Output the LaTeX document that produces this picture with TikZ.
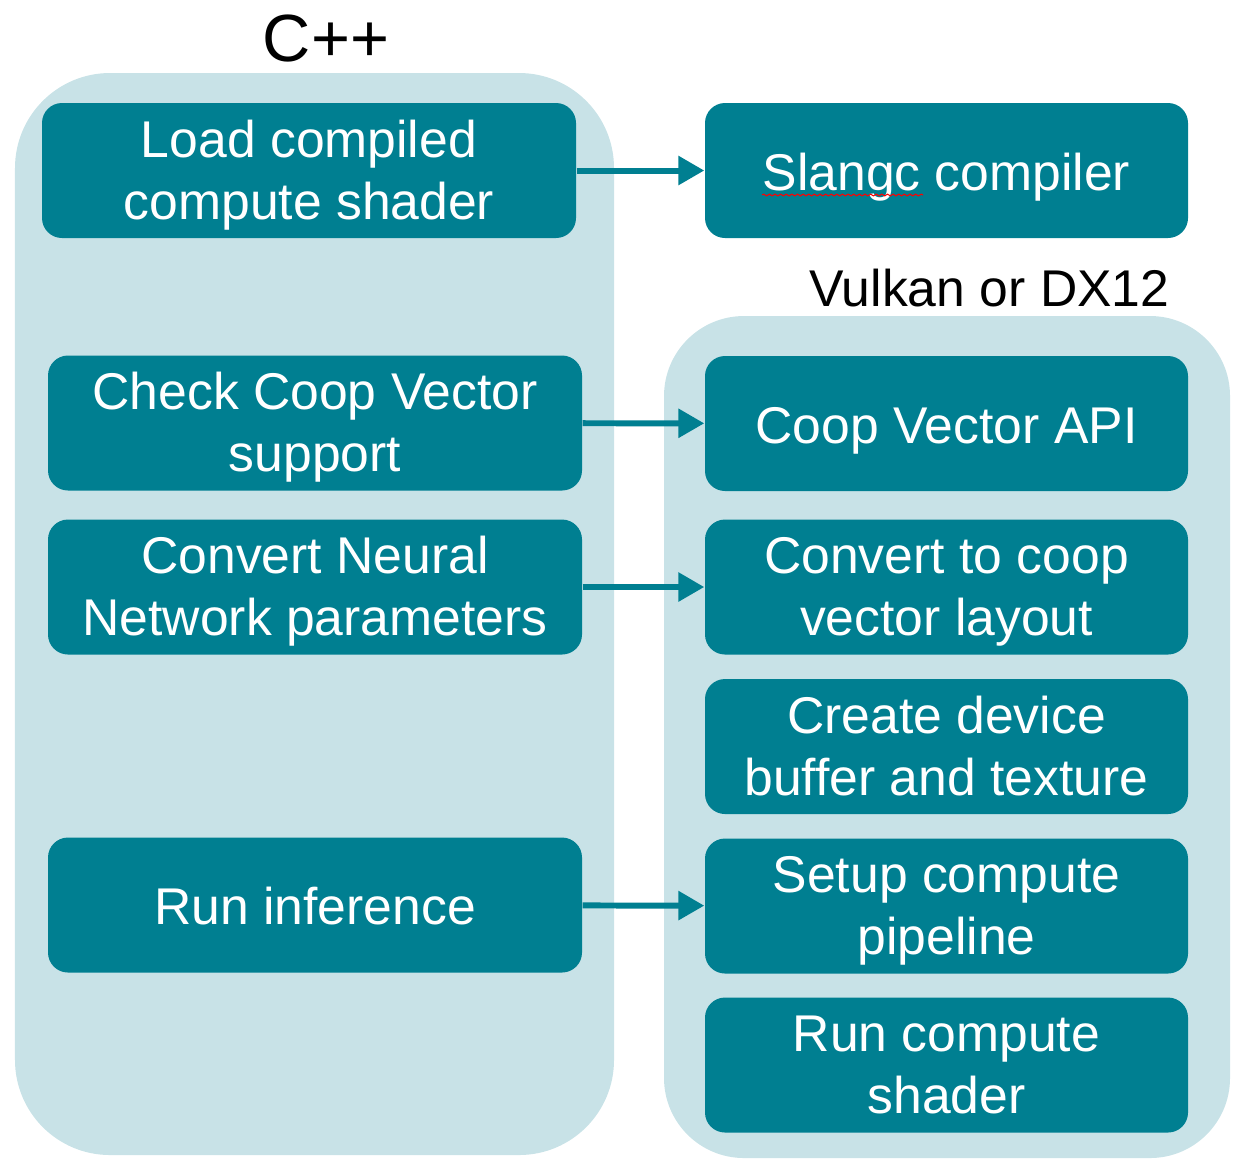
\documentclass[tikz,border=0pt]{standalone}
\usepackage{fontspec}
\setmainfont{Liberation Sans}
\usetikzlibrary{arrows.meta,decorations.pathmorphing}
\definecolor{teal}{RGB}{0,127,145}
\definecolor{pale}{RGB}{200,226,231}
\newcommand{\capline}{\rule{0pt}{13.3pt}}
\begin{document}
\begin{tikzpicture}[x=1cm,y=-1cm,line join=round,
	box/.style={fill=teal,rounded corners=0.2cm,text=white,align=center,
		minimum height=1.35cm,inner sep=0pt,
		font=\fontsize{14.7}{17.6}\selectfont,
		execute at begin node={\rule{0pt}{14.3pt}},
		execute at end node={\rule[-3.2pt]{0pt}{3.2pt}}},
	lbox/.style={box,minimum width=5.34cm},
	rbox/.style={box,minimum width=4.83cm},
	link/.style={teal,line width=1.7pt,-{Triangle[length=0.26cm,width=0.28cm]}}]
	\useasboundingbox (0,0) rectangle (12.45,11.68);
	% panels
	\fill[pale,rounded corners=0.95cm] (0.15,0.73) rectangle (6.14,11.55);
	\fill[pale,rounded corners=0.8cm] (6.64,3.16) rectangle (12.30,11.58);
	\node (cpp) at (3.26,0.38) {\fontsize{19}{22}\selectfont C++};
	\node[anchor=east,inner sep=0pt] (api) at (11.70,2.88) {\fontsize{14.7}{18}\selectfont Vulkan or DX12};
	% C++ side
	\node[lbox] (load) at (3.09,1.705) {\capline Load compiled\\compute shader};
	\node[lbox] (check) at (3.15,4.23) {\capline Check Coop Vector\\support};
	\node[lbox] (conv) at (3.15,5.87) {\capline Convert Neural\\Network parameters};
	\node[lbox] (infer) at (3.15,9.05) {Run inference};
	% API side
	\node[rbox] (slangc) at (9.465,1.705) {Slangc compiler};
	\node[rbox] (coopapi) at (9.465,4.235) {Coop Vector API};
	\node[rbox] (layout) at (9.465,5.87) {\capline Convert to coop\\vector layout};
	\node[rbox] (buffer) at (9.465,7.465) {\capline Create device\\buffer and texture};
	\node[rbox] (pipe) at (9.465,9.06) {\capline Setup compute\\pipeline};
	\node[rbox] (dispatch) at (9.465,10.65) {\capline Run compute\\shader};
	\draw[red,line width=0.3pt,decorate,decoration={snake,amplitude=0.25pt,segment length=1.6pt}]
		(7.62,1.95) -- (9.23,1.95);
	% links
	\draw[link] (load) -- (slangc);
	\draw[link] (check) -- (coopapi);
	\draw[link] (conv) -- (layout);
	\draw[link] (infer) -- (pipe);
\end{tikzpicture}
\end{document}
